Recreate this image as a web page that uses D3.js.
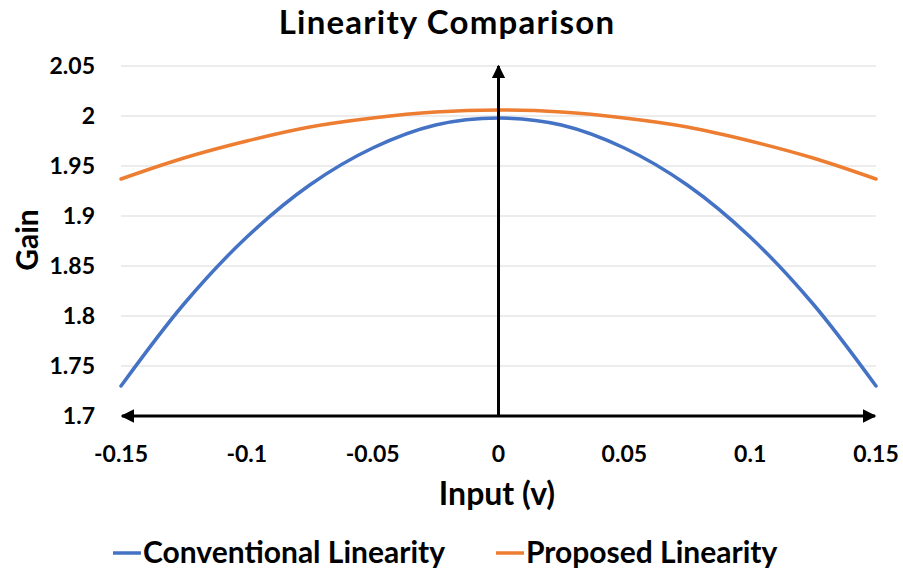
<!DOCTYPE html>
<html>
<head>
<meta charset="utf-8">
<script src="https://cdn.jsdelivr.net/npm/d3@7"></script>
<style>
  body { margin: 0; background: #fff; }
  text { font-family: Lato, "Open Sans", sans-serif; font-weight: bold; fill: #000; }
</style>
</head>
<body>
<svg id="canvas" width="903" height="573"></svg>
<script>
// values
let inputs = [-0.15, -0.125, -0.1, -0.075, -0.05, -0.025, 0, 0.025, 0.05, 0.075, 0.1, 0.125, 0.15];
let conventional = [1.730, 1.812, 1.879, 1.931, 1.968, 1.991, 1.998, 1.991, 1.968, 1.931, 1.879, 1.812, 1.730];
let proposed = [1.937, 1.958, 1.975, 1.989, 1.998, 2.004, 2.006, 2.004, 1.998, 1.989, 1.975, 1.958, 1.937];
let xTicks = [-0.15, -0.1, -0.05, 0, 0.05, 0.1, 0.15];
let yTicks = [1.7, 1.75, 1.8, 1.85, 1.9, 1.95, 2, 2.05];
let seriesNames = ['Conventional Linearity', 'Proposed Linearity'];
let colors = ['#4472C4', '#ED7D31'];

let canvas = d3.select('#canvas');

let plotLeft = 121, plotRight = 876, plotTop = 66, plotBottom = 416;

let xScale = d3.scaleLinear().domain([-0.15, 0.15]).range([plotLeft, plotRight]);
let yScale = d3.scaleLinear().domain([1.7, 2.05]).range([plotBottom, plotTop]);

let defs = canvas.append('defs');
defs.append('marker')
    .attr('id', 'arrow')
    .attr('viewBox', '0 0 10 10')
    .attr('refX', 9)
    .attr('refY', 5)
    .attr('markerWidth', 4.5)
    .attr('markerHeight', 4.5)
    .attr('orient', 'auto-start-reverse')
    .append('path')
    .attr('d', 'M0,0 L10,5 L0,10 z')
    .attr('fill', '#000');

// gridlines
canvas.append('g')
    .selectAll('line')
    .data(yTicks.filter(d => d !== 1.7))
    .enter()
    .append('line')
    .attr('x1', plotLeft)
    .attr('x2', plotRight)
    .attr('y1', d => yScale(d))
    .attr('y2', d => yScale(d))
    .attr('stroke', '#d9d9d9')
    .attr('stroke-width', 1);

// y tick labels
canvas.append('g')
    .selectAll('text')
    .data(yTicks)
    .enter()
    .append('text')
    .attr('x', 95)
    .attr('y', d => yScale(d))
    .attr('dy', '0.36em')
    .attr('text-anchor', 'end')
    .style('font-size', '23px')
    .text(d => d);

// x tick labels
canvas.append('g')
    .selectAll('text')
    .data(xTicks)
    .enter()
    .append('text')
    .attr('x', d => xScale(d))
    .attr('y', 462)
    .attr('text-anchor', 'middle')
    .style('font-size', '23px')
    .text(d => d);

// series lines
let line = d3.line()
    .x((d, i) => xScale(inputs[i]))
    .y(d => yScale(d))
    .curve(d3.curveCatmullRom);

canvas.append('g')
    .selectAll('path')
    .data([conventional, proposed])
    .enter()
    .append('path')
    .attr('d', d => line(d))
    .attr('fill', 'none')
    .attr('stroke', (d, i) => colors[i])
    .attr('stroke-width', 3.5)
    .attr('stroke-linecap', 'round');

// axis arrows
canvas.append('line')
    .attr('x1', plotLeft + 1)
    .attr('x2', plotRight - 1)
    .attr('y1', plotBottom)
    .attr('y2', plotBottom)
    .attr('stroke', '#000')
    .attr('stroke-width', 3)
    .attr('marker-start', 'url(#arrow)')
    .attr('marker-end', 'url(#arrow)');

canvas.append('line')
    .attr('x1', xScale(0))
    .attr('x2', xScale(0))
    .attr('y1', plotBottom)
    .attr('y2', plotTop)
    .attr('stroke', '#000')
    .attr('stroke-width', 3)
    .attr('marker-end', 'url(#arrow)');

// title and axis titles
canvas.append('text')
    .attr('x', 447)
    .attr('y', 34)
    .attr('text-anchor', 'middle')
    .style('font-size', '33px')
    .style('letter-spacing', '1.2px')
    .text('Linearity Comparison');

canvas.append('text')
    .attr('x', 497)
    .attr('y', 505)
    .attr('text-anchor', 'middle')
    .style('font-size', '32px')
    .text('Input (v)');

canvas.append('text')
    .attr('transform', 'translate(38,240) rotate(-90)')
    .attr('text-anchor', 'middle')
    .style('font-size', '30px')
    .text('Gain');

// legend
let legend = canvas.append('g');
let legendX = [113, 496];
seriesNames.forEach((name, i) => {
    legend.append('line')
        .attr('x1', legendX[i])
        .attr('x2', legendX[i] + 28)
        .attr('y1', 553)
        .attr('y2', 553)
        .attr('stroke', colors[i])
        .attr('stroke-width', 3.5);
    legend.append('text')
        .attr('x', legendX[i] + 30)
        .attr('y', 563)
        .style('font-size', '30px')
        .text(name);
});
</script>
</body>
</html>
